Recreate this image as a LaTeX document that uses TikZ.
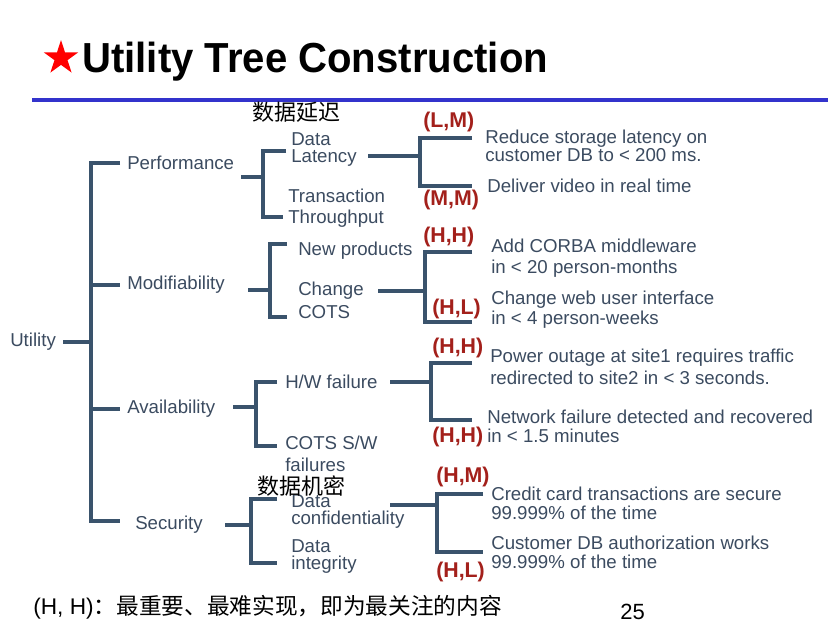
\documentclass[tikz,border=0pt]{standalone}
\usepackage{fontspec}
\setmainfont{Liberation Sans}
\newfontfamily\cjk{Noto Sans CJK SC}
\usetikzlibrary{shapes.geometric}
\definecolor{txt}{HTML}{3B4B60}
\definecolor{wirecol}{HTML}{3A536C}
\definecolor{rate}{HTML}{A3201B}
\definecolor{rulecol}{HTML}{3333CC}
\newcommand{\ls}[1]{\fontsize{14}{#1}\selectfont}
\begin{document}
\begin{tikzpicture}[x=0.75pt,y=-0.75pt,
  lbl/.style={anchor=west,inner sep=0pt,text=txt,align=left,font=\ls{16.5}},
  rating/.style={anchor=west,inner sep=0pt,text=rate,font=\fontsize{16}{19}\selectfont\bfseries},
  note/.style={anchor=west,inner sep=0pt,text=black,font=\cjk\fontsize{16.5}{19}\selectfont},
  branch/.style={draw=wirecol,line width=2.5pt,line join=miter,line cap=butt}]
\useasboundingbox (0,0) rectangle (834,633);

% heading
\node[star,star points=5,star point ratio=2.618,fill=red,inner sep=0pt,minimum size=27pt] (star) at (61,58) {};
\node[anchor=base west,inner sep=0pt,font=\fontsize{31.5}{36}\selectfont\bfseries] (title) at (82,72)
  {\scalebox{0.955}[1]{Utility Tree Construction}};
\draw[rulecol,line width=3pt] (32,100) coordinate (ruleL) -- (828,100) coordinate (ruleR);

% root and quality attributes
\node[lbl] (util) at (10,342) {Utility};
\node[lbl] (perf) at (127,163) {Performance};
\node[lbl] (modi) at (127,285) {Modifiability};
\node[lbl] (avail) at (127,409) {Availability};
\node[lbl] (secu) at (135,525) {Security};

% refinements
\node[lbl,font=\ls{12.75}] (lat) at (291,149.5) {Data\\Latency};
\node[lbl,font=\ls{15.75}] (thru) at (288,208.5) {Transaction\\Throughput};
\node[lbl] (newp) at (298,251) {New products};
\node[lbl,font=\ls{17.25}] (cots) at (298,300.5) {Change\\COTS};
\node[lbl] (hw) at (285,382) {H/W failure};
\node[lbl,font=\ls{16.5}] (sw) at (285,454) {COTS S/W\\failures};
\node[lbl,font=\ls{12.75}] (conf) at (291,511.5) {Data\\confidentiality};
\node[lbl,font=\ls{12.75}] (integ) at (291,556.5) {Data\\integrity};

% scenarios
\node[lbl,font=\ls{13.5}] (sc1) at (485,146) {Reduce storage latency on\\customer DB to < 200 ms.};
\node[lbl] (sc2) at (487,186) {Deliver video in real time};
\node[lbl,font=\ls{15.75}] (sc3) at (491,258.5) {Add CORBA middleware\\in < 20 person-months};
\node[lbl,font=\ls{15}] (sc4) at (491,310) {Change web user interface\\in < 4 person-weeks};
\node[lbl,font=\ls{16.5}] (sc5) at (490,367) {Power outage at site1 requires traffic\\redirected to site2 in < 3 seconds.};
\node[lbl,font=\ls{14.25}] (sc6) at (487,426.5) {Network failure detected and recovered\\in < 1.5 minutes};
\node[lbl,font=\ls{14.25}] (sc7) at (491,503.5) {Credit card transactions are secure\\99.999\% of the time};
\node[lbl,font=\ls{14.25}] (sc8) at (491,552.5) {Customer DB authorization works\\99.999\% of the time};

% ratings (importance, difficulty)
\node[rating] (r1) at (423,122) {(L,M)};
\node[rating] (r2) at (423,200) {(M,M)};
\node[rating] (r3) at (423,237) {(H,H)};
\node[rating] (r4) at (432,309) {(H,L)};
\node[rating] (r5) at (432,348) {(H,H)};
\node[rating] (r6) at (432,437) {(H,H)};
\node[rating] (r7) at (436,477) {(H,M)};
\node[rating] (r8) at (436,572) {(H,L)};

% annotations
\node[note] (n1) at (252,112) {数据延迟};
\node[note] (n2) at (257,486) {数据机密};
\node[note,font=\fontsize{17}{19}\selectfont] (foot) at (33,607) {(H, H){\cjk：最重要、最难实现，即为最关注的内容}};
\node[anchor=west,inner sep=0pt,font=\fontsize{16.5}{19}\selectfont] (page) at (620,612) {25};

% Utility -> attributes
\coordinate (uT) at (91,163); \coordinate (uB) at (91,521);
\draw[branch] (util.east) ++(7,0) coordinate (uS) -- (uS -| uT);
\draw[branch] (120,163) coordinate (uE1) -- (uT) -- (uB) -- (120,521) coordinate (uE4);
\draw[branch] (uT |- modi) -- (120,285) coordinate (uE2);
\draw[branch] (uT |- avail) -- (120,409) coordinate (uE3);

% Performance
\coordinate (pS) at (241,177); \coordinate (pT) at (263,151); \coordinate (pB) at (263,217);
\draw[branch] (pS) -- (pS -| pT);
\draw[branch] (286,151) coordinate (pE1) -- (pT) -- (pB) -- (283,217) coordinate (pE2);

% Data latency
\coordinate (lS) at (368,156); \coordinate (lT) at (420,138); \coordinate (lB) at (420,186);
\draw[branch] (lS) -- (lS -| lT);
\draw[branch] (472,138) coordinate (lE1) -- (lT) -- (lB) -- (472,186) coordinate (lE2);

% Modifiability
\coordinate (mS) at (248,290); \coordinate (mT) at (270,244); \coordinate (mB) at (270,317);
\draw[branch] (mS) -- (mS -| mT);
\draw[branch] (287,244) coordinate (mE1) -- (mT) -- (mB) -- (287,317) coordinate (mE2);

% Change COTS
\coordinate (cS) at (378,291); \coordinate (cT) at (425,252); \coordinate (cB) at (425,322);
\draw[branch] (cS) -- (cS -| cT);
\draw[branch] (472,252) coordinate (cE1) -- (cT) -- (cB) -- (472,322) coordinate (cE2);

% Availability
\coordinate (aS) at (233,407); \coordinate (aT) at (256,382); \coordinate (aB) at (256,446);
\draw[branch] (aS) -- (aS -| aT);
\draw[branch] (277,382) coordinate (aE1) -- (aT) -- (aB) -- (277,446) coordinate (aE2);

% H/W failure
\coordinate (hS) at (390,382); \coordinate (hT) at (431,363); \coordinate (hB) at (431,420);
\draw[branch] (hS) -- (hS -| hT);
\draw[branch] (472,363) coordinate (hE1) -- (hT) -- (hB) -- (472,420) coordinate (hE2);

% Security
\coordinate (sS) at (225,525); \coordinate (sT) at (251,499); \coordinate (sB) at (251,563);
\draw[branch] (sS) -- (sS -| sT);
\draw[branch] (277,499) coordinate (sE1) -- (sT) -- (sB) -- (277,563) coordinate (sE2);

% Data confidentiality
\coordinate (dS) at (390,505); \coordinate (dT) at (437,494); \coordinate (dB) at (437,552);
\draw[branch] (dS) -- (dS -| dT);
\draw[branch] (483,494) coordinate (dE1) -- (dT) -- (dB) -- (483,552) coordinate (dE2);
\end{tikzpicture}
\end{document}
